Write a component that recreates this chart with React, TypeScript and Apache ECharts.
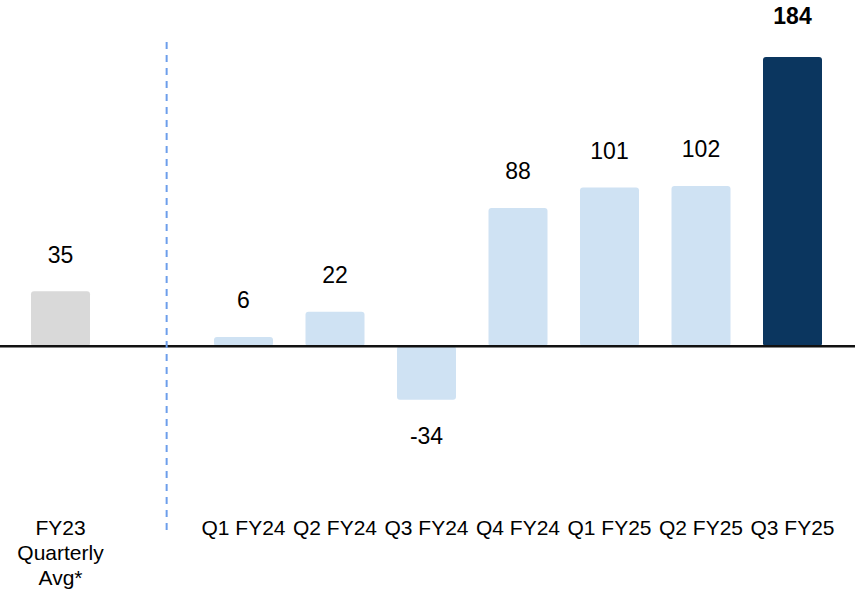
import React, { useEffect, useRef } from "react";
import * as echarts from "echarts";

const categories = [
  "FY23\nQuarterly\nAvg*",
  "",
  "Q1 FY24",
  "Q2 FY24",
  "Q3 FY24",
  "Q4 FY24",
  "Q1 FY25",
  "Q2 FY25",
  "Q3 FY25",
];
const values: (number | null)[] = [35, null, 6, 22, -34, 88, 101, 102, 184];
const yMin = -102.8;
const yMax = 193.5;

export default function App() {
  const ref = useRef<HTMLDivElement>(null);
  useEffect(() => {
    const chart = echarts.init(ref.current!, null, { renderer: "svg" });
    const font = "'Liberation Sans', Arial, sans-serif";
    const last = values.length - 1;
    const data = values.map((v, i) =>
      v === null
        ? null
        : {
            value: v,
            itemStyle: {
              color: i === 0 ? "#d9d9d9" : i === last ? "#0b365f" : "#cfe2f3",
              borderRadius: 3,
            },
            label: {
              position: v >= 0 ? "top" : "bottom",
              fontWeight: i === last ? "bold" : "normal",
              distance: i === last ? 29 : 25,
            },
          }
    );
    chart.setOption({
      animation: false,
      textStyle: { fontFamily: font },
      grid: { left: 14.75, right: 16.75, top: 42, bottom: 81, containLabel: false },
      xAxis: {
        type: "category",
        data: categories,
        axisLine: { show: false },
        axisTick: { show: false },
        axisLabel: {
          interval: 0,
          fontSize: 21,
          lineHeight: 25,
          color: "#000",
          margin: 7,
          fontFamily: font,
        },
      },
      yAxis: {
        type: "value",
        min: yMin,
        max: yMax,
        show: false,
        splitLine: { show: false },
      },
      series: [
        {
          type: "bar",
          data,
          barWidth: 59,
          label: {
            show: true,
            fontSize: 23,
            color: "#000",
            fontFamily: font,
          },
        },
      ],
    });
    const y0 = chart.convertToPixel({ yAxisIndex: 0 }, 0) as number;
    const yTop = chart.convertToPixel({ yAxisIndex: 0 }, yMax) as number;
    const yBot = chart.convertToPixel({ yAxisIndex: 0 }, yMin) as number;
    const xa = chart.convertToPixel({ xAxisIndex: 0 }, 1) as number;
    const xb = chart.convertToPixel({ xAxisIndex: 0 }, 2) as number;
    const xd = xa + (xb - xa) * 0.16;
    const w = chart.getWidth();
    chart.setOption({
      graphic: [
        {
          type: "line",
          z: 10,
          shape: { x1: 0, y1: y0, x2: w, y2: y0 },
          style: { stroke: "#111", lineWidth: 2.4 },
        },
        {
          type: "line",
          z: 10,
          shape: { x1: xd, y1: yTop, x2: xd, y2: yBot + 26 },
          style: { stroke: "#6d9eeb", lineWidth: 2, lineDash: [7, 6] },
        },
      ],
    });
    return () => chart.dispose();
  }, []);
  return (
    <div
      ref={ref}
      style={{ position: "absolute", left: 0, top: 0, width: 855, height: 590, background: "#fff" }}
    />
  );
}
